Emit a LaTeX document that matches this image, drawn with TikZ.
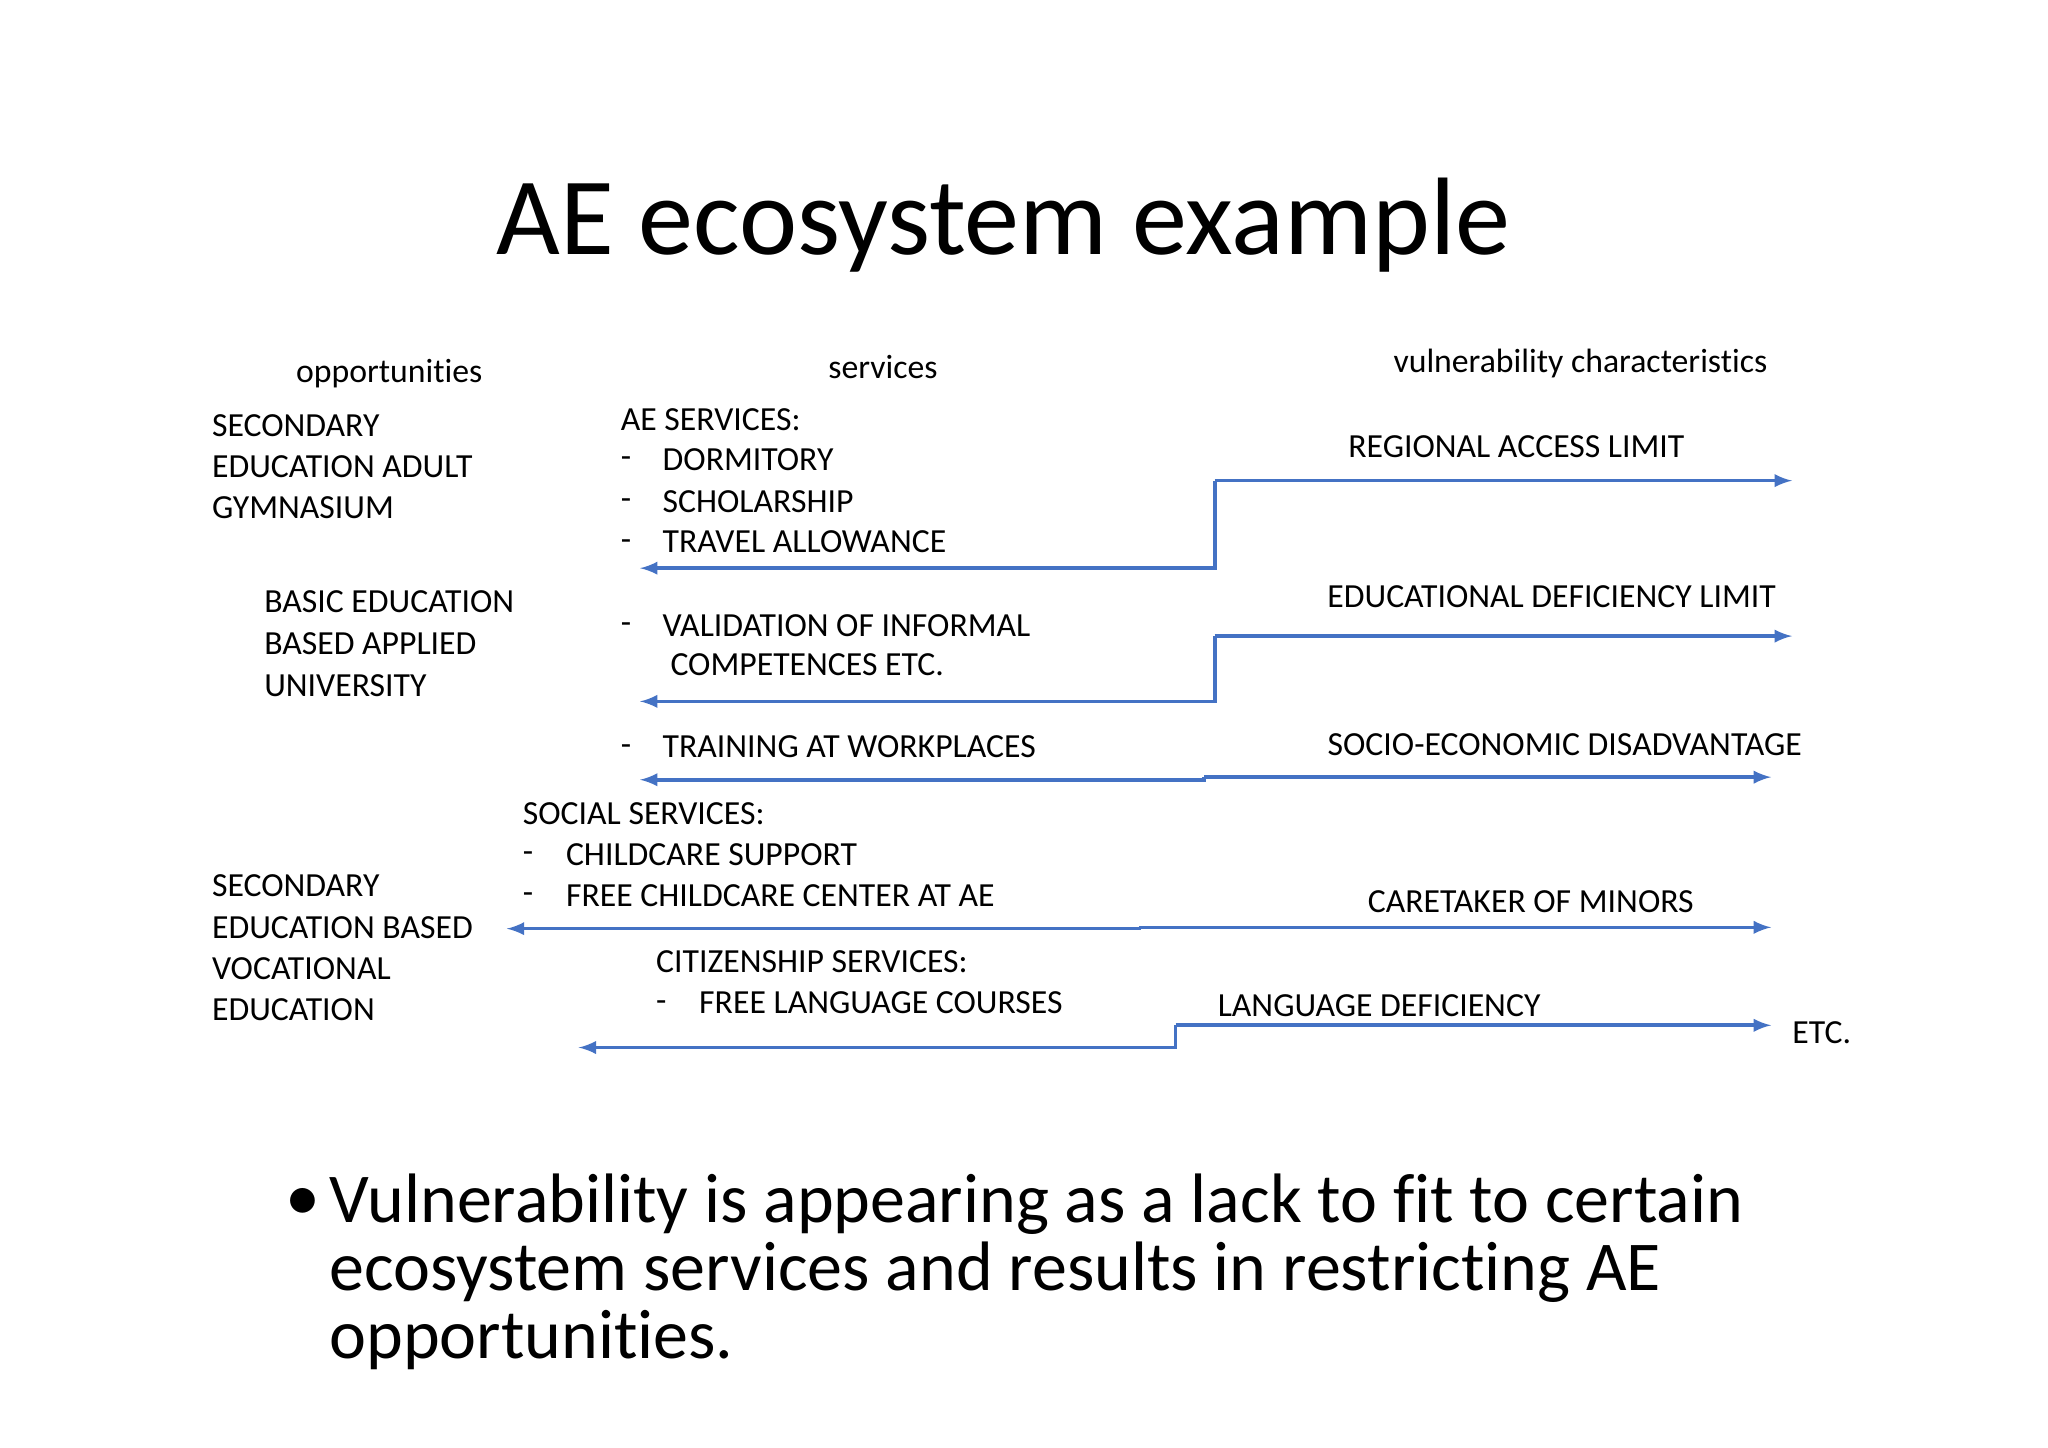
\documentclass[tikz,border=0pt]{standalone}
\usepackage{fontspec}
\setmainfont{Carlito}[Ligatures={NoCommon,NoRequired,NoContextual}]
\definecolor{ln}{RGB}{68,114,196}
\begin{document}
\begin{tikzpicture}[x=0.02cm,y=-0.02cm,
 t/.style={anchor=west,inner sep=0pt,font=\fontsize{14.7}{17}\selectfont},
 tc/.style={inner sep=0pt,font=\fontsize{14.7}{17}\selectfont},
 bt/.style={anchor=west,inner sep=0pt,font=\fontsize{30.5}{34}\selectfont},
 con/.style={draw=ln,line width=1.6pt,-latex}]
\useasboundingbox (0,0) rectangle (1568,1108);
\node[inner sep=0pt,font=\fontsize{48}{54}\selectfont] (title) at (768,172) {AE ecosystem example};
\node[tc] (h1) at (298,286) {opportunities};
\node[tc] (h2) at (676,281) {services};
\node[tc] (h3) at (1210,278) {vulnerability characteristics};
% left column
\node[t] (o1) at (162,326) {SECONDARY};
\node[t] (o2) at (162,357) {EDUCATION ADULT};
\node[t] (o3) at (162,389) {GYMNASIUM};
\node[t] (o4) at (202,461) {BASIC EDUCATION};
\node[t] (o5) at (202,493) {BASED APPLIED};
\node[t] (o6) at (202,525) {UNIVERSITY};
\node[t] (o7) at (162,678) {SECONDARY};
\node[t] (o8) at (162,710) {EDUCATION BASED};
\node[t] (o9) at (162,742) {VOCATIONAL};
\node[t] (o10) at (162,773) {EDUCATION};
% services
\node[t] (s0) at (475,321) {AE SERVICES:};
\node[t] (d1) at (475,354) {-}; \node[t] (s1) at (507,352) {DORMITORY};
\node[t] (d2) at (475,386) {-}; \node[t] (s2) at (507,384) {SCHOLARSHIP};
\node[t] (d3) at (475,417) {-}; \node[t] (s3) at (507,415) {TRAVEL ALLOWANCE};
\node[t] (d4) at (475,481) {-}; \node[t] (s4) at (507,479) {VALIDATION OF INFORMAL};
\node[t] (s5) at (513,509) {COMPETENCES ETC.};
\node[t] (d6) at (475,574) {-}; \node[t] (s6) at (507,572) {TRAINING AT WORKPLACES};
\node[t] (s7) at (400,623) {SOCIAL SERVICES:};
\node[t] (d8) at (400,656) {-}; \node[t] (s8) at (433,654) {CHILDCARE SUPPORT};
\node[t] (d9) at (400,688) {-}; \node[t] (s9) at (433,686) {FREE CHILDCARE CENTER AT AE};
\node[t] (s10) at (502,736) {CITIZENSHIP SERVICES:};
\node[t] (d11) at (502,770) {-}; \node[t] (s11) at (535,768) {FREE LANGUAGE COURSES};
% vulnerabilities
\node[tc] (v1) at (1161,342) {REGIONAL ACCESS LIMIT};
\node[tc] (v2) at (1188,457) {EDUCATIONAL DEFICIENCY LIMIT};
\node[tc] (v3) at (1198,570) {SOCIO-ECONOMIC DISADVANTAGE};
\node[tc] (v4) at (1172,690) {CARETAKER OF MINORS};
\node[t] (v5) at (932,770) {LANGUAGE DEFICIENCY};
\node[t] (etc) at (1372,791) {ETC.};
% connector coordinates
\coordinate (a1) at (490,435); \coordinate (k1) at (930,368); \coordinate (b1) at (1372,368);
\coordinate (a2) at (490,537); \coordinate (k2) at (930,487); \coordinate (b2) at (1372,487);
\coordinate (a3) at (490,597); \coordinate (k3) at (922,595); \coordinate (b3) at (1356,595);
\coordinate (a4) at (388,711); \coordinate (k4) at (872,710); \coordinate (b4) at (1356,710);
\coordinate (a5) at (443,802); \coordinate (k5) at (900,785); \coordinate (b5) at (1356,785);
\foreach \i in {1,...,5}{
 \draw[con] (k\i) -- (b\i);
 \draw[con] (k\i) |- (a\i);
}
% bullet
\node[inner sep=0pt,font=\fontsize{30.5}{34}\selectfont] (bul) at (232,922) {•};
\node[bt] (b1t) at (252,922) {Vulnerability is appearing as a lack to fit to certain};
\node[bt] (b2t) at (252,974) {ecosystem services and results in restricting AE};
\node[bt] (b3t) at (252,1026) {opportunities.};
\end{tikzpicture}
\end{document}
